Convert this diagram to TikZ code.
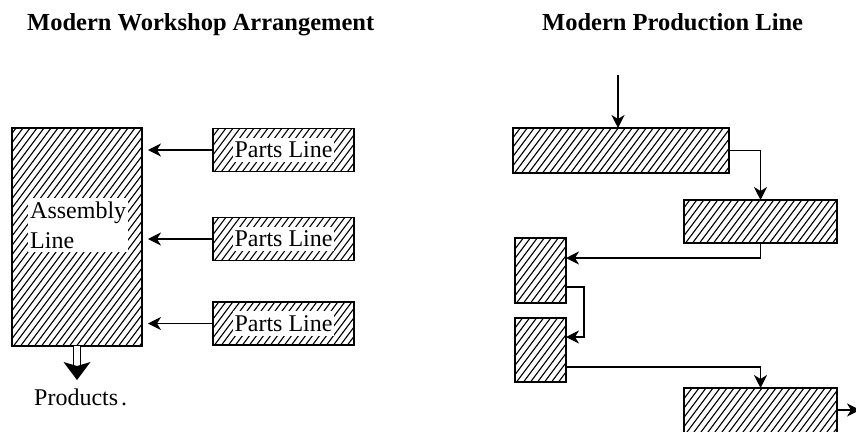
\documentclass[tikz,border=0pt]{standalone}
\usepackage{fontspec}
\setmainfont{Liberation Serif}
\usetikzlibrary{arrows.meta,calc}
\begin{document}
\begin{tikzpicture}[x=1pt,y=-1pt,
  hbox/.style={draw=black,line width=1.6pt,inner sep=0pt,outer sep=0pt,
    path picture={
      \foreach \k in {-28,...,32}{
        \draw[line width=1.1pt]
          ($(path picture bounding box.south west)+(\k*7,2)$) -- ++(195,-260);
      }}},
  conn/.style={line width=1.3pt,-{Stealth[length=13pt,width=13pt,inset=4pt]}},
  lbl/.style={fill=white,inner xsep=2pt,inner ysep=4pt,font=\fontsize{24}{30}\selectfont},
  plain/.style={inner sep=0pt,font=\fontsize{24}{30}\selectfont},
  ttl/.style={inner sep=0pt,anchor=base west,font=\bfseries\fontsize{24.5}{28}\selectfont}]
\useasboundingbox (0,0) rectangle (856,431);
\clip (0,0) rectangle (856,431);

% titles
\node[ttl] (t1) at (27,30) {Modern Workshop Arrangement};
\node[ttl] (t2) at (542,30) {Modern Production Line};

% ---- left: workshop arrangement
\node[hbox,minimum width=130pt,minimum height=218pt] (asm) at (77,237) {};
\node[lbl,align=left,anchor=west] (asmlbl) at (28,225) {Assembly\\Line};

\node[hbox,minimum width=141pt,minimum height=43pt] (p1) at (283.5,150) {};
\node[hbox,minimum width=141pt,minimum height=43pt] (p2) at (283.5,239) {};
\node[hbox,minimum width=141pt,minimum height=43pt] (p3) at (283.5,323.5) {};
\node[lbl] (p1l) at (p1) {Parts Line};
\node[lbl] (p2l) at (p2) {Parts Line};
\node[lbl] (p3l) at (p3) {Parts Line};

\draw[conn,shorten >=6pt] (p1.west) -- (p1.west -| asm.east);
\draw[conn,shorten >=6pt] (p2.west) -- (p2.west -| asm.east);
\draw[conn,shorten >=6pt] (p3.west) -- (p3.west -| asm.east);

% products arrow
\node[plain,anchor=west] (prod) at (34,397) {Products\hspace{3pt}.};
\coordinate (ptip) at ($(asm.south)+(0,34)$);
\draw[line width=1.2pt,double distance=6pt] (asm.south) -- ($(ptip)+(0,-15)$);
\fill (ptip) -- ++(-13.5,-18) -- ++(13.5,4) -- ++(13.5,-4) -- cycle;

% ---- right: production line
\node[hbox,minimum width=216pt,minimum height=45pt] (b1) at (621,150.5) {};
\node[hbox,minimum width=153pt,minimum height=43pt] (b2) at (760.5,221.5) {};
\node[hbox,minimum width=51pt,minimum height=65pt] (b3) at (540.5,270.5) {};
\node[hbox,minimum width=51pt,minimum height=64pt] (b4) at (540.5,350) {};
\node[hbox,minimum width=153pt,minimum height=46pt] (b5) at (760.5,411) {};

\coordinate (in) at (618,75);
\coordinate (out) at (860,410);

\draw[conn] (in) -- (in |- b1.north);
\draw[conn] (b1.east) -| (b2.north);
\draw[conn] (b2.south) |- ([yshift=12.5pt]b3.east);
\draw[conn] ([yshift=-16.5pt]b3.east) -- ++(18,0) |- ([yshift=13pt]b4.east);
\draw[conn] ([yshift=-17pt]b4.east) -| (b5.north);
\draw[conn] ([yshift=1pt]b5.east) -- (out);
\end{tikzpicture}
\end{document}
